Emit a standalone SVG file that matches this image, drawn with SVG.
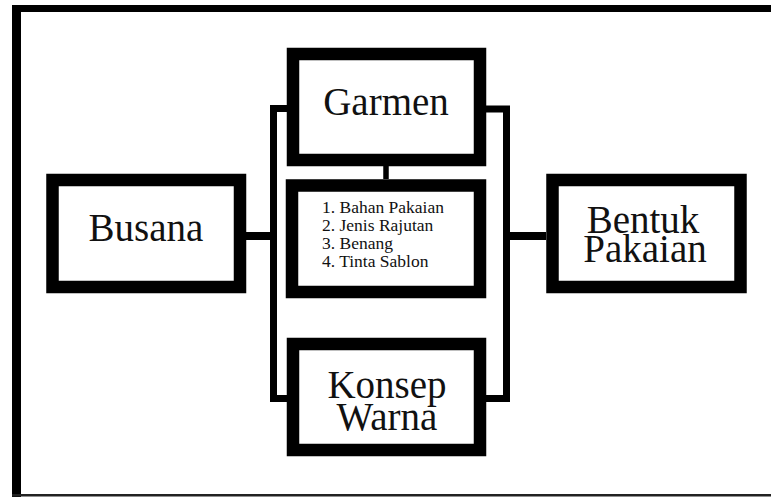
<svg xmlns="http://www.w3.org/2000/svg" width="771" height="497" viewBox="0 0 771 497">
<style>
.box{fill:#fff;stroke:#000;stroke-width:12.5}
.con{fill:none;stroke:#000;stroke-linejoin:miter;stroke-linecap:butt}
.t{font-family:"Liberation Serif","Times New Roman",serif;fill:#111;text-anchor:middle}
.big{font-size:39px}
.list{font-family:"Liberation Serif","Times New Roman",serif;fill:#111;font-size:17.5px}
</style>
<rect x="0" y="0" width="771" height="497" fill="#fff"/>
<g id="frame">
<rect x="12" y="5" width="759" height="7" fill="#000"/>
<rect x="12" y="5" width="9" height="492" fill="#000"/>
<rect x="12" y="494" width="759" height="2.5" fill="#222"/>
</g>
<g id="connectors">
<path class="con" stroke-width="7" d="M287 108.5 H273.5 V398.5 H287"/>
<path class="con" stroke-width="8" d="M246 236 H273.5"/>
<path class="con" stroke-width="7" d="M486 109 H506.5 V398.5 H486"/>
<path class="con" stroke-width="8" d="M506.5 236 H546"/>
<path class="con" stroke-width="5.5" d="M386 166 V179"/>
</g>
<g id="busana">
<rect class="box" x="52.5" y="180" width="187.5" height="107"/>
<text class="t big" x="146" y="241">Busana</text>
</g>
<g id="garmen">
<rect class="box" x="293" y="54" width="187" height="106"/>
<text class="t big" x="386" y="115">Garmen</text>
</g>
<g id="bahan">
<rect class="box" x="292" y="185.5" width="188" height="106.5"/>
<text class="list" x="322" y="213"><tspan x="322" y="213">1. Bahan Pakaian</tspan><tspan x="322" y="231">2. Jenis Rajutan</tspan><tspan x="322" y="249">3. Benang</tspan><tspan x="322" y="267">4. Tinta Sablon</tspan></text>
</g>
<g id="konsep">
<rect class="box" x="293" y="344" width="187" height="106"/>
<text class="t big" x="387" y="398"><tspan x="387" y="398">Konsep</tspan><tspan x="387" y="430">Warna</tspan></text>
</g>
<g id="bentuk">
<rect class="box" x="552.5" y="180" width="188" height="107"/>
<text class="t big" x="644" y="233"><tspan x="643" y="233">Bentuk</tspan><tspan x="645" y="262">Pakaian</tspan></text>
</g>
</svg>
